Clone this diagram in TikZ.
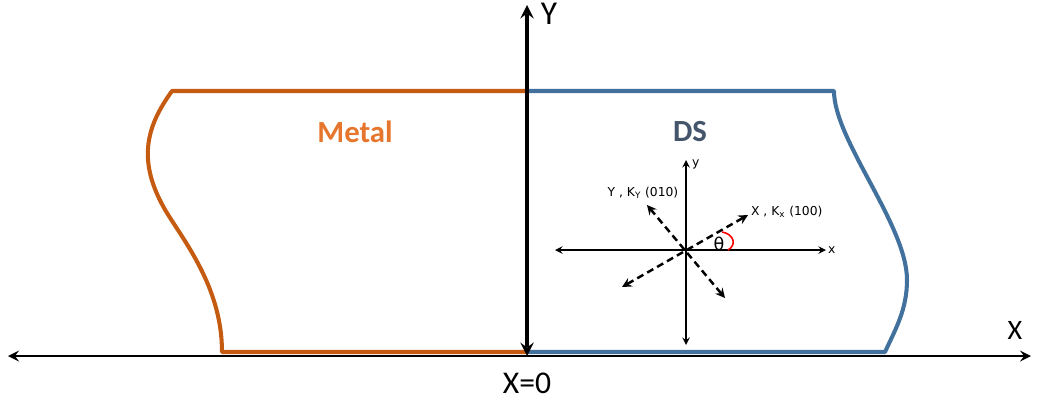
\documentclass[tikz,border=0pt]{standalone}
\usepackage{fontspec}
\setmainfont{Carlito}
\newfontfamily\labelfont{DejaVu Sans}
\definecolor{metalorange}{RGB}{197, 90, 17}
\definecolor{metaltext}{RGB}{230, 118, 45}
\definecolor{dsblue}{RGB}{65, 113, 156}
\definecolor{dstext}{RGB}{68, 84, 106}

\begin{document}
\begin{tikzpicture}[scale=1.0, >=stealth]
    \useasboundingbox (0,0) rectangle (20.74,8.1);
    % metal region
    \begin{scope}
        \draw[metalorange, line width=2.3pt, line join=round] (10.54,6.28) -- (3.44,6.28)
            .. controls (2.95,5.6) and (2.7,4.9) .. (3.34,3.84)
            .. controls (3.74,3.2) and (4.44,2.3) .. (4.44,1.06)
            -- (10.54,1.06);
        \node[text=metaltext, font=\fontsize{17.5}{20}\selectfont\bfseries] (metal) at (7.1,5.46) {Metal};
    \end{scope}
    % DS region
    \begin{scope}
        \draw[dsblue, line width=2.3pt, line join=round] (10.54,6.28) -- (16.68,6.28)
            .. controls (16.68,5.3) and (18.14,3.6) .. (18.14,2.5)
            .. controls (18.14,1.9) and (17.9,1.5) .. (17.7,1.06)
            -- (10.54,1.06);
        \node[text=dstext, font=\fontsize{17.5}{20}\selectfont\bfseries] (ds) at (13.8,5.46) {DS};
    \end{scope}
    % main axes
    \coordinate (xl) at (0.16,0.98);
    \coordinate (xr) at (20.62,0.98);
    \coordinate (yb) at (10.54,0.98);
    \coordinate (yt) at (10.54,8.0);
    \draw[<->, line width=1.7pt] (xl) -- (xr);
    \draw[<->, line width=2.3pt] (yb) -- (yt);
    \node[font=\fontsize{19}{22}\selectfont] (ylab) at (10.98,7.82) {Y};
    \node[font=\fontsize{16}{19}\selectfont] (xlab) at (20.3,1.5) {X};
    \node[font=\fontsize{18}{21}\selectfont] (xzero) at (10.54,0.44) {X=0};
    % crystal axes
    \begin{scope}[font=\labelfont\fontsize{7}{8}\selectfont]
        \coordinate (o) at (13.72,3.1);
        \coordinate (hl) at (11.1,3.1);
        \coordinate (hr) at (16.52,3.1);
        \coordinate (vb) at (13.72,1.2);
        \coordinate (vt) at (13.72,4.9);
        \draw[<->, line width=0.9pt] (hl) -- (hr);
        \draw[<->, line width=0.9pt] (vb) -- (vt);
        \node[anchor=west, inner sep=1pt] (xs) at (hr) {x};
        \node[anchor=west, inner sep=1pt] (ys) at (13.8,4.82) {y};
        \coordinate (kxp) at (14.96,3.8);
        \coordinate (kxm) at (12.44,2.36);
        \coordinate (kyp) at (12.94,4.0);
        \coordinate (kym) at (14.5,2.14);
        \draw[<->, line width=1.4pt, dash pattern=on 4pt off 2.5pt] (kxm) -- (kxp);
        \draw[<->, line width=1.4pt, dash pattern=on 4pt off 2.5pt] (kym) -- (kyp);
        \node[anchor=west, inner sep=1pt] (kxlab) at (14.98,3.86) {X , K\textsubscript{x} (100)};
        \node[inner sep=1pt] (kylab) at (12.86,4.24) {Y , K\textsubscript{Y} (010)};
        \draw[red, line width=0.9pt] (14.56,3.1) .. controls (14.74,3.2) and (14.68,3.42) .. (14.44,3.46);
        \node[font=\labelfont\fontsize{10}{12}\selectfont, inner sep=0pt] (theta) at (14.38,3.22) {θ};
    \end{scope}
\end{tikzpicture}
\end{document}
